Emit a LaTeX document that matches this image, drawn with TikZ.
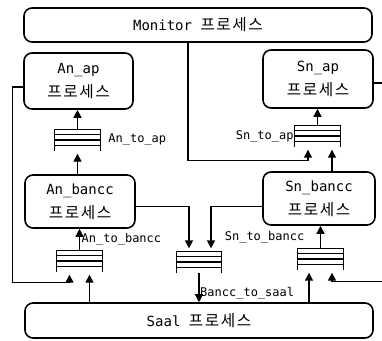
\documentclass[tikz,border=0pt]{standalone}
\usepackage{fontspec}
\setmainfont{DejaVu Sans Mono}
\newfontfamily\kr[Scale=1.12, LetterSpace=10]{Noto Sans CJK KR}
\usetikzlibrary{calc, arrows.meta, positioning}

\tikzset{
  proc/.style={draw, rounded corners=8pt, line width=1.6pt, align=center,
    inner sep=0pt, font=\fontsize{14}{24}\selectfont},
  queue/.style={minimum width=45pt, minimum height=21pt, inner sep=0pt},
  conn/.style={line width=1.4pt, -{Triangle[length=8pt,width=8pt]}},
  toq/.style={conn, shorten >=3pt},
  lbl/.style={inner sep=1pt, font=\fontsize{12}{14}\selectfont},
}

\begin{document}
\begin{tikzpicture}[x=1pt, y=-1pt]
  \useasboundingbox (0,0) rectangle (382,340);

  % processes
  \node[proc, minimum width=348pt, minimum height=34pt] (monitor) at (198,25) {Monitor {\kr 프로세스}};
  \node[proc, minimum width=109pt, minimum height=56pt] (anap) at (78.5,81) {An\_ap\\{\kr 프로세스}};
  \node[proc, minimum width=110pt, minimum height=58pt] (snap) at (318,79) {Sn\_ap\\{\kr 프로세스}};
  \node[proc, minimum width=110pt, minimum height=53pt] (anbancc) at (80,201.5) {An\_bancc\\{\kr 프로세스}};
  \node[proc, minimum width=112pt, minimum height=53pt] (snbancc) at (319,198.5) {Sn\_bancc\\{\kr 프로세스}};
  \node[proc, minimum width=348pt, minimum height=35pt] (saal) at (199,320.5) {Saal {\kr 프로세스}};

  % queues
  \node[queue] (qanap) at (77.5,140) {};
  \node[queue] (qsnap) at (317.5,136) {};
  \node[queue] (qanbancc) at (79.5,261) {};
  \node[queue] (qbanccsaal) at (199,262) {};
  \node[queue] (qsnbancc) at (320.5,259) {};
  \foreach \q in {qanap,qsnap,qanbancc,qbanccsaal,qsnbancc}{
    \draw[line width=1.2pt] (\q.north west) -- (\q.south west) (\q.north east) -- (\q.south east);
    \foreach \f in {0,0.25,0.5,0.75}
      \draw[line width=1.2pt] ($(\q.north west)!\f!(\q.south west)$) -- ($(\q.north east)!\f!(\q.south east)$);
  }

  % queue labels
  \node[lbl, right=7pt of qanap] (lanap) {An\_to\_ap};
  \node[lbl, left=0pt of qsnap] (lsnap) {Sn\_to\_ap};
  \node[lbl, above right=4pt and 1pt of qanbancc.north] (lanbancc) {An\_to\_bancc};
  \node[lbl, above left=4pt and 15pt of qsnbancc.north] (lsnbancc) {Sn\_to\_bancc};
  \node[lbl, anchor=south west] (lbanccsaal) at ([yshift=2pt]qbanccsaal.south |- saal.north) {Bancc\_to\_saal};

  % connectors
  \draw[conn] (qanap.north) -- (qanap.north |- anap.south);
  \draw[toq] (qanap.south |- anbancc.north) -- (qanap.south);
  \draw[toq] ([xshift=-10pt]monitor.south) |- ([xshift=-9.5pt,yshift=-14pt]qsnap.south) -- ([xshift=-9.5pt]qsnap.south);
  \draw[conn] (qsnap.north) -- (qsnap.north |- snap.south);
  \draw[toq] ([xshift=14.5pt]qsnap.south |- snbancc.north) -- ([xshift=14.5pt]qsnap.south);
  \draw[toq] ([yshift=-6pt]anap.west) -- ++(-11,0) |- ([xshift=-10pt,yshift=-11pt]qanbancc.south) -- ([xshift=-10pt]qanbancc.south);
  \draw[toq] ([xshift=10pt]qanbancc.south |- saal.north) -- ([xshift=10pt]qanbancc.south);
  \draw[conn] (qanbancc.north) -- (qanbancc.north |- anbancc.south);
  \draw[toq] ([yshift=-5pt]anbancc.east) -| ([xshift=-10pt]qbanccsaal.north);
  \draw[toq] ([yshift=-8pt]snbancc.west) -| ([xshift=12pt]qbanccsaal.north);
  \draw[conn] (qbanccsaal.south) -- (qbanccsaal.south |- saal.north);
  \draw[conn] (qsnbancc.north) -- (qsnbancc.north |- snbancc.south);
  \draw[toq] ([xshift=-11.5pt]qsnbancc.south |- saal.north) -- ([xshift=-11.5pt]qsnbancc.south);
  \draw[toq] ([yshift=-4pt]snap.east) -- ++(12,0) |- ([xshift=11.5pt,yshift=-12pt]qsnbancc.south) -- ([xshift=11.5pt]qsnbancc.south);
\end{tikzpicture}
\end{document}
